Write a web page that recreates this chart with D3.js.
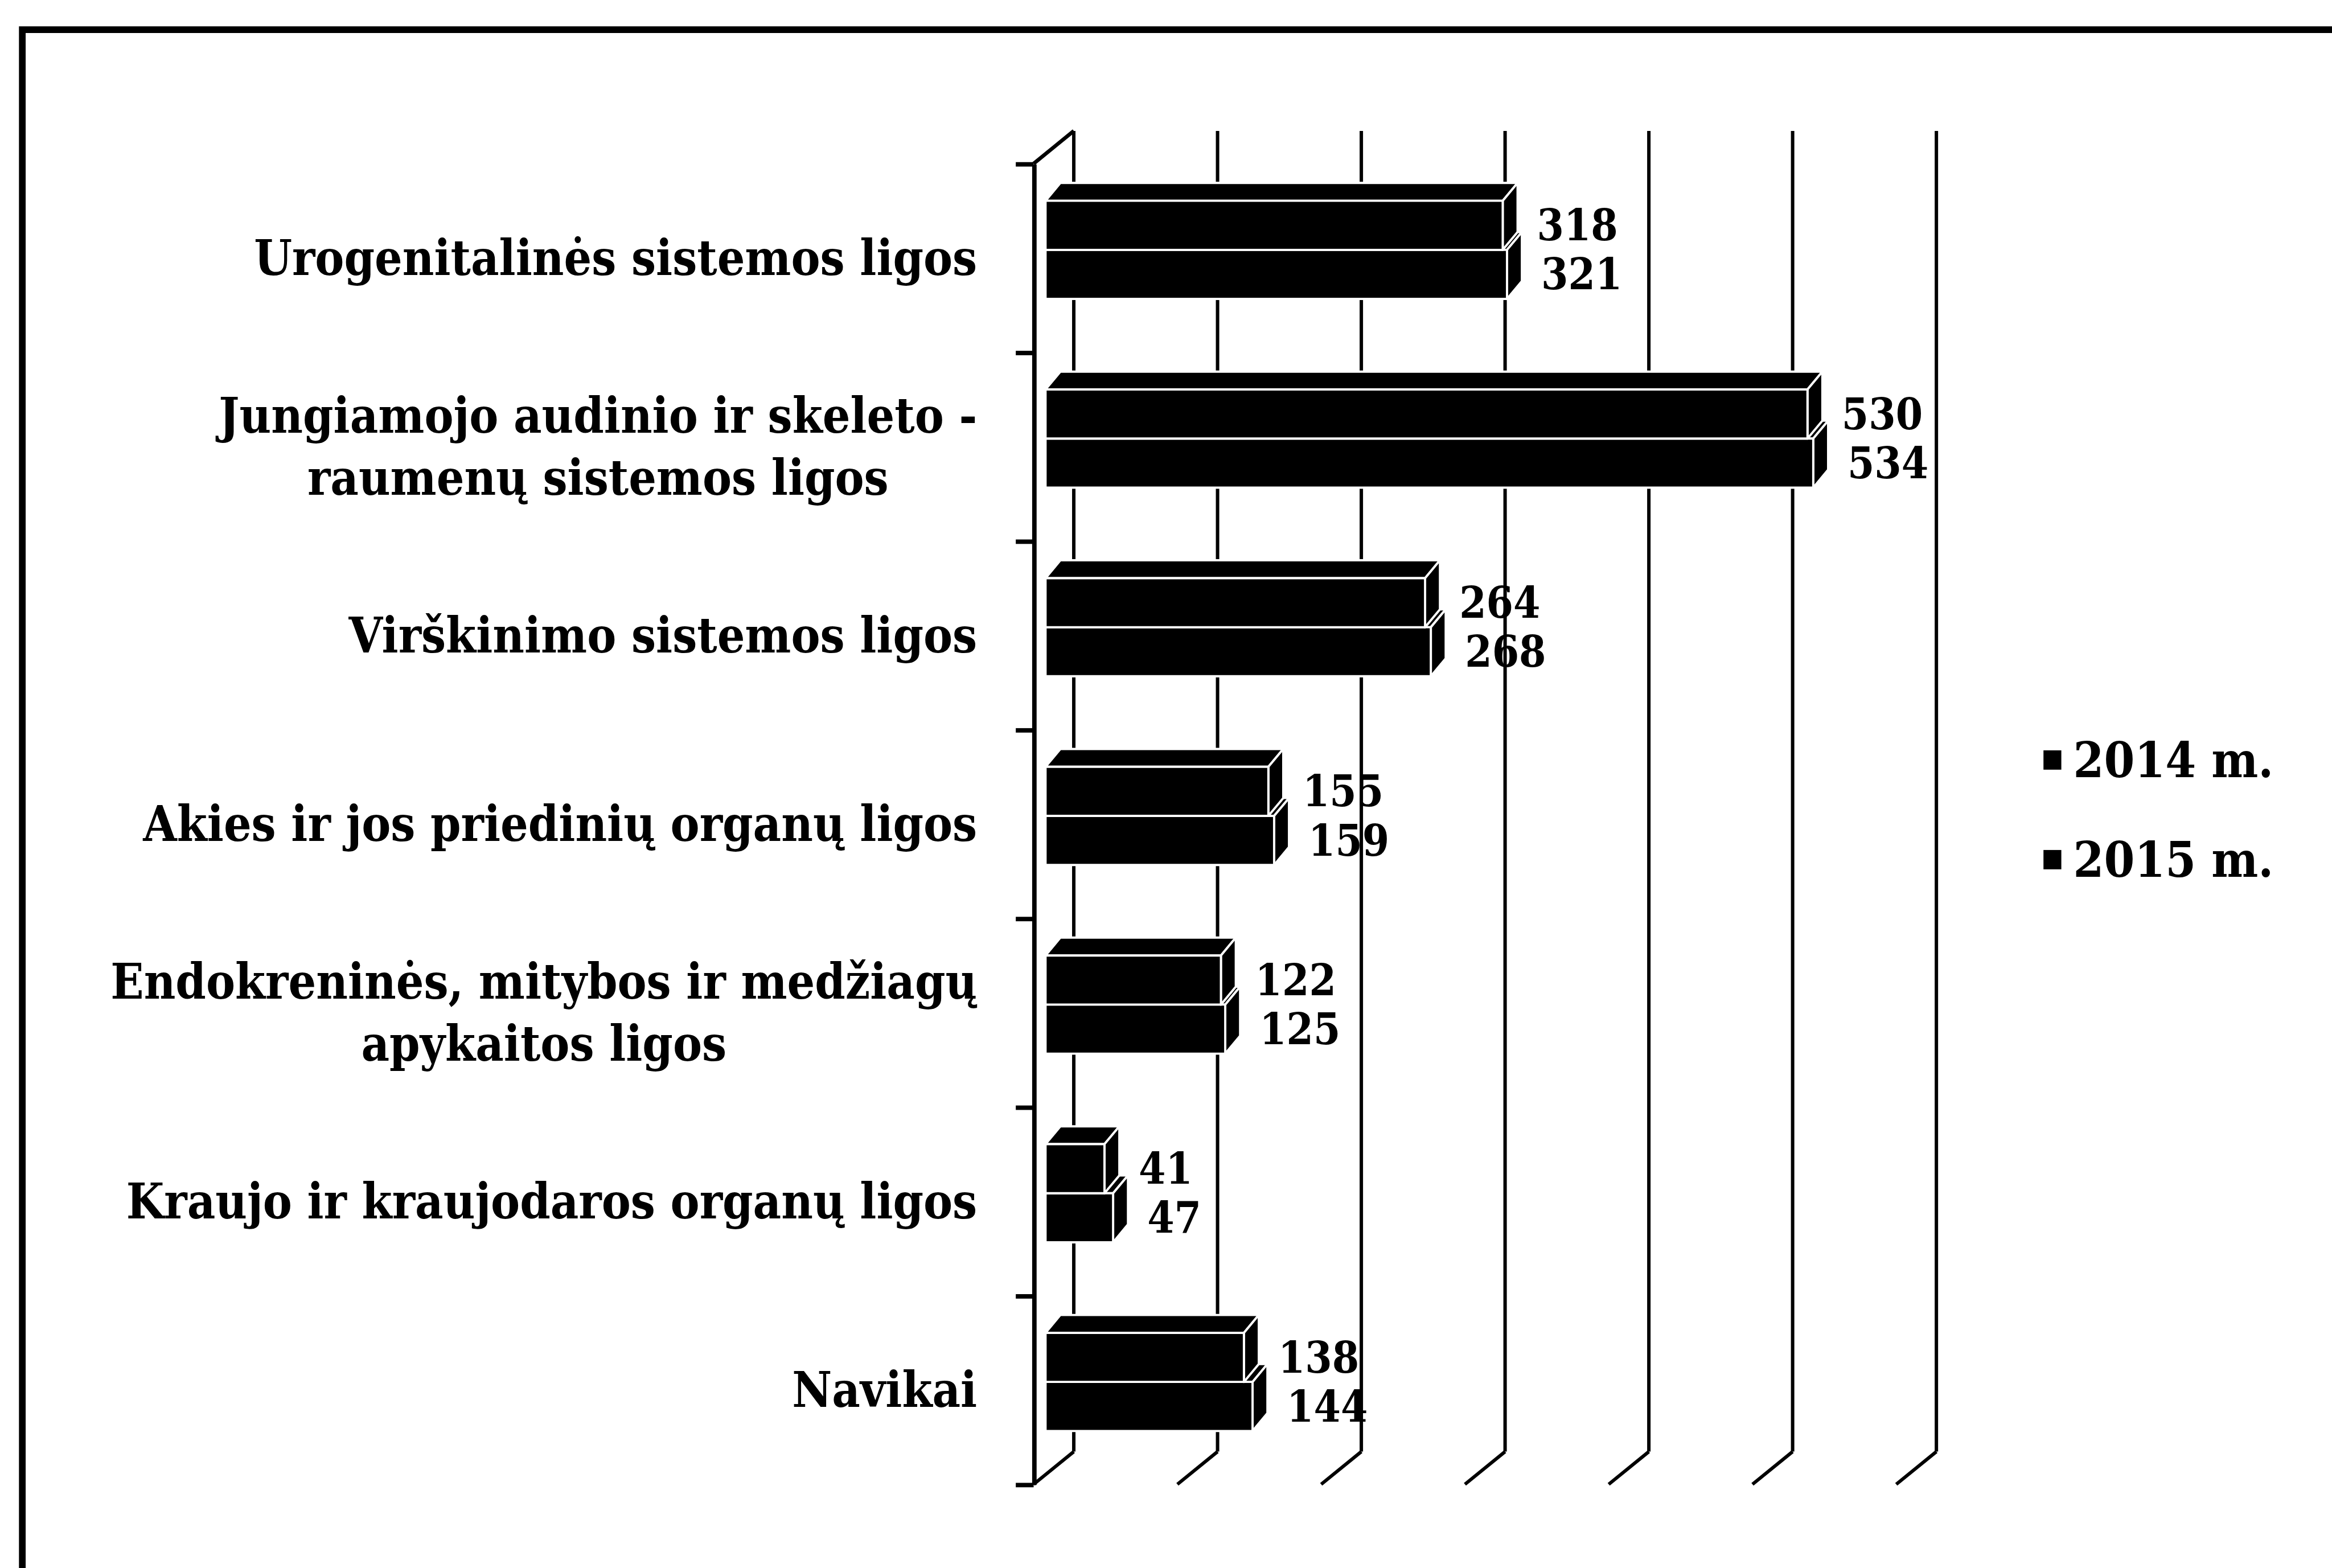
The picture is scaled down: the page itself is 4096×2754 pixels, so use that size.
<!DOCTYPE html>
<html><head><meta charset="utf-8">
<script src="https://cdn.jsdelivr.net/npm/d3@7"></script>
<style>html,body{margin:0;padding:0;background:#fff;overflow:hidden;} svg{display:block;}</style>
</head><body>
<script>
// ---- data ----
const categories = [
  "Urogenitalinės sistemos ligos",
  "Jungiamojo audinio ir skeleto -\nraumenų sistemos ligos",
  "Virškinimo sistemos ligos",
  "Akies ir jos priedinių organų ligos",
  "Endokreninės, mitybos ir medžiagų\napykaitos ligos",
  "Kraujo ir kraujodaros organų ligos",
  "Navikai"
];
const seriesNames = ["2014 m.", "2015 m."];
const values2014 = [318, 530, 264, 155, 122, 41, 138];
const values2015 = [321, 534, 268, 159, 125, 47, 144];
const xTicks = [0, 100, 200, 300, 400, 500, 600];

// ---- layout (in units of a 1568-wide design, scaled to the window) ----
const W = 4096, H = 2754;
const S = W / 1568;
const FONT = '"DejaVu Serif Condensed","DejaVu Serif",serif';

const svg = d3.select("body").append("svg").attr("width", W).attr("height", H)
  .style("background", "#fff");
const g = svg.append("g").attr("transform", `scale(${S})`);

// frame
g.append("path").attr("d", "M15,1070V20H1580")
  .attr("fill", "none").attr("stroke", "#000").attr("stroke-width", 4.5);

const frontX = 695, topY = 110, botY = 998;
const DX = 27, DY = -22;           // wall depth
const BDX = 10, BDY = -12;          // bar depth

const xBack = d3.scaleLinear().domain([0, 600]).range([frontX + DX, frontX + DX + 580]);
const xBar = d3.scaleLinear().domain([0, 600]).range([703, 703 + 580]);
const y = d3.scaleBand().domain(categories).range([topY, botY]).padding(0);
const ys = d3.scaleBand().domain(seriesNames).range([25, 91]).padding(0);

// back wall gridlines and floor lines
const grid = g.append("g").attr("stroke", "#000").attr("stroke-width", 2.3).attr("fill", "none");
grid.selectAll("line.v").data(xTicks).join("line").attr("class", "v")
  .attr("x1", d => xBack(d)).attr("x2", d => xBack(d))
  .attr("y1", topY + DY).attr("y2", botY + DY);
grid.selectAll("line.f").data(xTicks).join("line").attr("class", "f")
  .attr("x1", d => xBack(d)).attr("x2", d => xBack(d) - DX)
  .attr("y1", botY + DY).attr("y2", botY);
// top-left diagonal of the side wall
g.append("line").attr("x1", frontX).attr("y1", topY).attr("x2", frontX + DX).attr("y2", topY + DY)
  .attr("stroke", "#000").attr("stroke-width", 2.5);

// front category axis with ticks at band boundaries
const yEdge = d3.scaleLinear().domain([0, categories.length]).range([topY, botY]);
const axis = g.append("g").attr("transform", `translate(${frontX},0)`)
  .call(d3.axisLeft(yEdge).tickValues(d3.range(categories.length + 1)).tickFormat("")
    .tickSize(12).tickSizeOuter(0));
axis.selectAll("path,line").attr("stroke", "#000").attr("stroke-width", 3);

// bars
const rows = categories.map((c, i) => ({
  c, items: [
    {s: seriesNames[1], v: values2015[i]},
    {s: seriesNames[0], v: values2014[i]}
  ]
}));
function bar3d(sel, c, s, v) {
  const x0 = xBar(0), x1 = xBar(v);
  const t = y(c) + ys(s), b = t + ys.bandwidth();
  const gg = sel.append("g").attr("fill", "#000").attr("stroke", "#fff")
    .attr("stroke-width", 1.5).attr("stroke-linejoin", "round");
  gg.append("path").attr("d", `M${x0},${t}L${x0 + BDX},${t + BDY}L${x1 + BDX},${t + BDY}L${x1},${t}Z`);
  gg.append("path").attr("d", `M${x1},${t}L${x1 + BDX},${t + BDY}L${x1 + BDX},${b + BDY}L${x1},${b}Z`);
  gg.append("rect").attr("x", x0).attr("y", t).attr("width", x1 - x0).attr("height", b - t);
}
const barsG = g.append("g");
rows.forEach(r => r.items.forEach(it => bar3d(barsG, r.c, it.s, it.v)));

// value labels
const labG = g.append("g").attr("font-family", FONT).attr("font-weight", "bold")
  .attr("font-size", 29).attr("fill", "#000");
rows.forEach(r => r.items.forEach(it => {
  labG.append("text")
    .attr("x", xBar(it.v) + 23)
    .attr("y", y(r.c) + ys(it.s) + ys.bandwidth() / 2)
    .attr("dominant-baseline", "central")
    .text(it.v);
}));

// category labels
const catG = g.append("g").attr("font-family", FONT).attr("font-weight", "bold")
  .attr("font-size", 32.6).attr("fill", "#000").attr("text-anchor", "middle");
categories.forEach(c => {
  const lines = c.split("\n");
  const cy = y(c) + y.bandwidth() / 2;
  const lh = 42;
  const t = catG.append("text").attr("text-anchor", lines.length > 1 ? "middle" : "end");
  lines.forEach((ln, k) => {
    t.append("tspan").attr("x", 657).attr("y", cy + (k - (lines.length - 1) / 2) * lh)
      .attr("dominant-baseline", "central").text(ln);
  });
  if (lines.length > 1) {
    const widths = [];
    t.selectAll("tspan").each(function () { widths.push(this.getComputedTextLength()); });
    const maxW = d3.max(widths);
    t.selectAll("tspan").attr("x", 657 - maxW / 2);
  }
});

// legend
const leg = g.append("g").attr("font-family", FONT).attr("font-weight", "bold")
  .attr("font-size", 33).attr("fill", "#000");
const legY = d3.scalePoint().domain(seriesNames).range([511, 578]);
seriesNames.forEach(s => {
  leg.append("rect").attr("x", 1374).attr("y", legY(s) - 6.5).attr("width", 12).attr("height", 13);
  leg.append("text").attr("x", 1394).attr("y", legY(s)).attr("dominant-baseline", "central").text(s);
});
</script>
</body></html>
